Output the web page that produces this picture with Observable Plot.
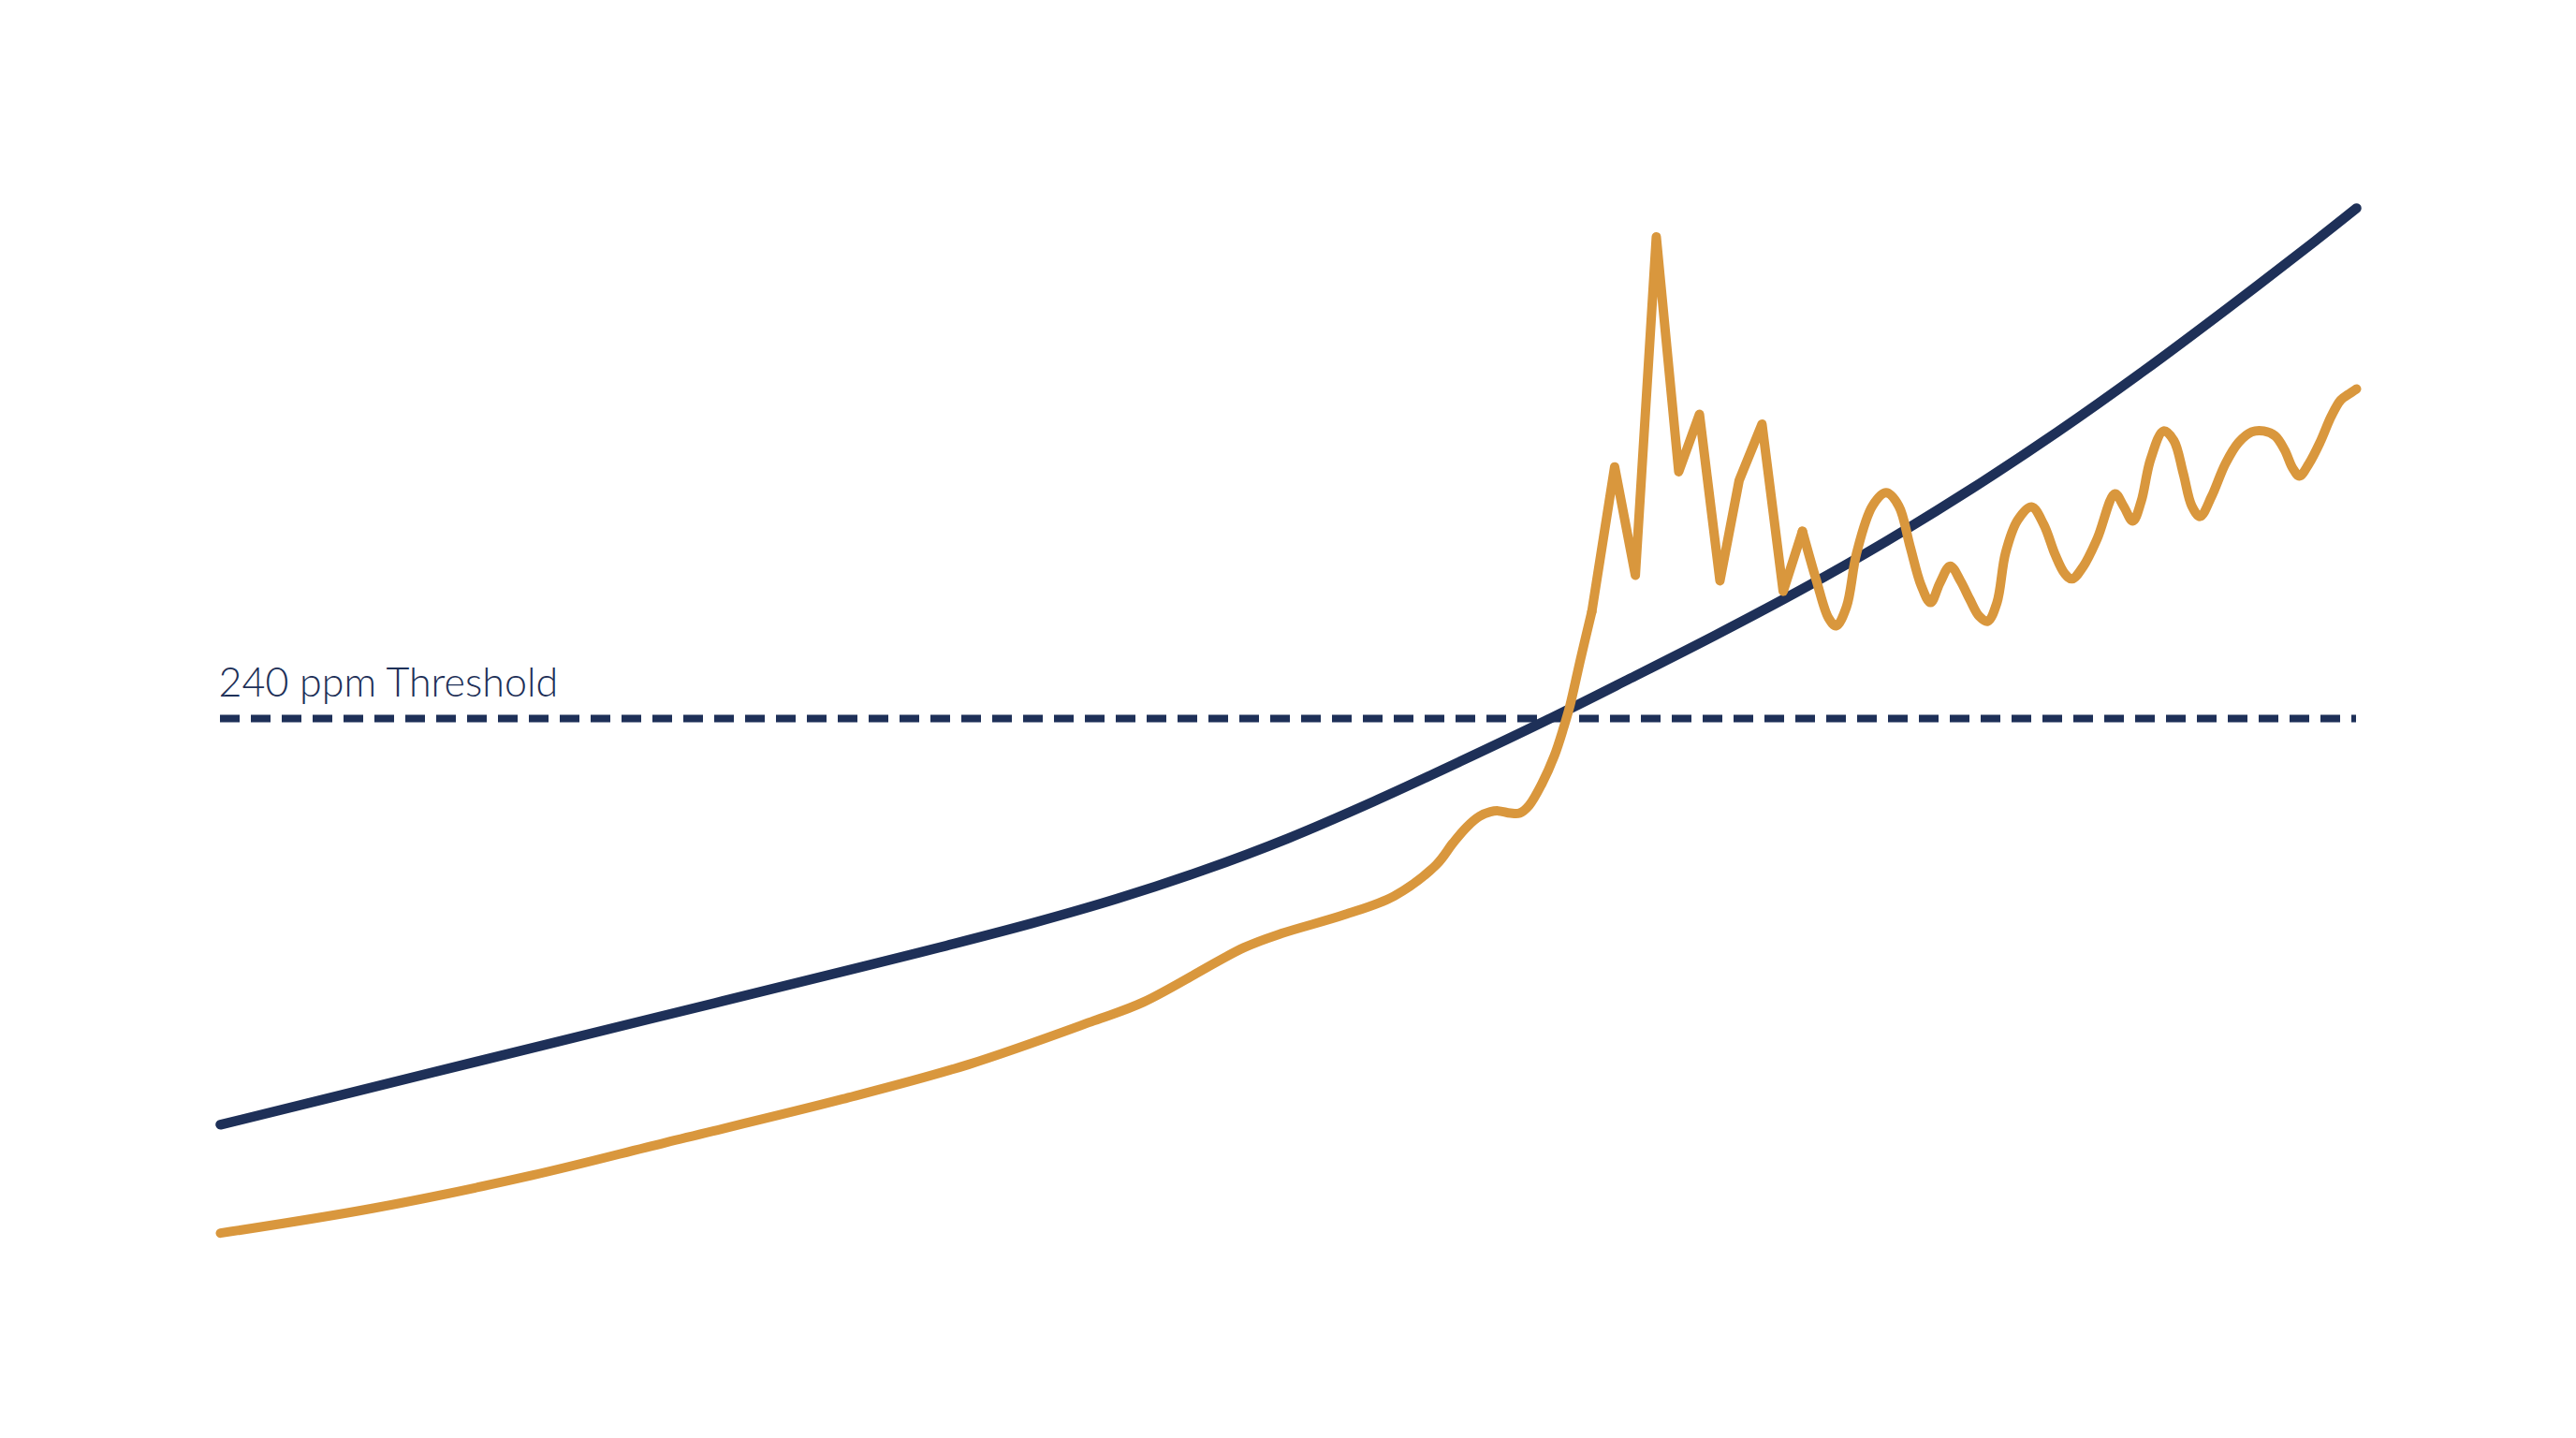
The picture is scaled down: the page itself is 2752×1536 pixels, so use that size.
<!DOCTYPE html>
<html>
<head>
<meta charset="utf-8">
<script src="https://cdn.jsdelivr.net/npm/d3@7"></script>
<script src="https://cdn.jsdelivr.net/npm/@observablehq/plot@0.6"></script>
<style>
  html, body { margin: 0; padding: 0; background: #ffffff; }
  #chart svg { display: block; }
</style>
</head>
<body>
<div id="chart"></div>
<script>
// ---- Data ----
const threshold = 240;
const thresholdLabel = "240 ppm Threshold";

const projectedYears = [1920, 1930, 1940, 1950, 1954, 1958, 1962, 1966, 1970, 1974, 1978, 1982, 1986, 1990, 1994, 1998, 2002, 2006, 2010, 2014, 2018, 2020];
const projectedPpm   = [116.4, 132.4, 148.4, 164.4, 170.9, 177.7, 185.2, 193.8, 203.6, 214.8, 226.8, 239.2, 252.2, 265.4, 279.2, 294.0, 310.0, 327.2, 345.6, 365.0, 385.0, 395.3];

const observedYears = [
  1920.0, 1927.17, 1934.59, 1940.86, 1949.14, 1955.01, 1960.88, 1963.21, 1967.92, 1969.68,
  1972.62, 1974.95, 1976.92, 1977.70, 1978.35, 1978.94, 1979.45, 1979.82, 1980.39, 1980.82,
  1981.26, 1981.86, 1982.45, 1982.88, 1983.18, 1983.67, 1984.2,
  1985.27, 1986.24, 1987.22, 1988.27, 1989.24, 1990.20, 1991.10, 1992.17, 1993.16, 1994.06,
  1994.72, 1995.29, 1995.64, 1996.12, 1996.60, 1997.34, 1997.98, 1998.57, 1999.10, 1999.62,
  2000.06, 2000.50, 2000.98, 2001.46, 2001.90, 2002.34, 2002.73, 2003.17, 2003.57, 2004.14,
  2004.79, 2005.36, 2005.89, 2006.33, 2006.68, 2007.20, 2007.86, 2008.69, 2009.09, 2009.53,
  2009.92, 2010.36, 2010.97, 2011.45, 2011.89, 2012.29, 2012.68, 2013.21, 2013.86, 2014.48,
  2015.09, 2015.66, 2016.19, 2016.63, 2017.02, 2017.33, 2017.77, 2018.29, 2018.82, 2019.26,
  2019.61, 2020
];
const observedPpm = [
  83.4, 91, 101, 111, 124.2, 134.7, 148, 153.7, 170.3, 174.6,
  180.3, 186, 195.5, 202.1, 207, 210.2, 211.6, 211.9, 211.2, 211.2,
  213.5, 220.1, 228.7, 237.2, 244, 258, 272.5,
  316.6, 283.6, 386.6, 315.1, 332.6, 281.9, 312.5, 329.6, 278.7, 297,
  281.9, 270.5, 268.2, 273.9, 290.4, 304.7, 308.7, 304.7, 292.4, 280.5,
  275.3, 281.3, 286.4, 281.9, 276.2, 271.1, 269.6, 275.3, 290.4, 300.4,
  304.4, 299, 289.9, 284.2, 282.5, 286.2, 294.7, 308.4, 304.7, 300.1,
  306.1, 318.9, 327.5, 324.6, 314.6, 304.7, 301.5, 307.5, 317.5, 324,
  327.2, 327.5, 326, 321.8, 316.1, 313.8, 317.5, 324, 332, 336.9,
  338.6, 340.3
];

// The sharp-cornered stretch of the observed series (drawn with straight segments)
const spikeStartYear = 1984.2;
const spikeEndYear = 1994.06;

// ---- Build tables ----
const projected = projectedYears.map((year, i) => ({year, ppm: projectedPpm[i]}));
const observed = observedYears.map((year, i) => ({year, ppm: observedPpm[i]}));
const observedBefore = observed.filter(d => d.year <= spikeStartYear);
const observedSpikes = observed.filter(d => d.year >= spikeStartYear && d.year <= spikeEndYear);
const observedAfter = observed.filter(d => d.year >= spikeEndYear);

const navy = "#1e3058";
const orange = "#d9973d";
const x0 = projectedYears[0];
const x1 = projectedYears[projectedYears.length - 1];

const lineStyle = {x: "year", y: "ppm", strokeLinecap: "round", strokeLinejoin: "round"};

const chart = Plot.plot({
  width: 2752,
  height: 1536,
  marginLeft: 235,
  marginRight: 235,
  marginTop: 65,
  marginBottom: 67,
  x: {domain: [x0, x1], axis: null},
  y: {domain: [40, 440], axis: null},
  style: {background: "#ffffff", fontFamily: "Lato, 'Open Sans', sans-serif"},
  marks: [
    Plot.ruleY([threshold], {x1: x0, x2: x1, stroke: navy, strokeWidth: 8, strokeDasharray: "21,12"}),
    Plot.text([thresholdLabel], {
      x: x0, y: threshold, text: d => d,
      textAnchor: "start", lineAnchor: "bottom", dy: -24, dx: -2,
      fontSize: 43, fontWeight: 300, fill: navy
    }),
    Plot.line(projected, {...lineStyle, stroke: navy, strokeWidth: 10.5, curve: "catmull-rom"}),
    Plot.line(observedBefore, {...lineStyle, stroke: orange, strokeWidth: 10, curve: "catmull-rom"}),
    Plot.line(observedSpikes, {...lineStyle, stroke: orange, strokeWidth: 10, curve: "linear"}),
    Plot.line(observedAfter, {...lineStyle, stroke: orange, strokeWidth: 10, curve: "catmull-rom"})
  ]
});

document.getElementById("chart").appendChild(chart);
</script>
</body>
</html>
